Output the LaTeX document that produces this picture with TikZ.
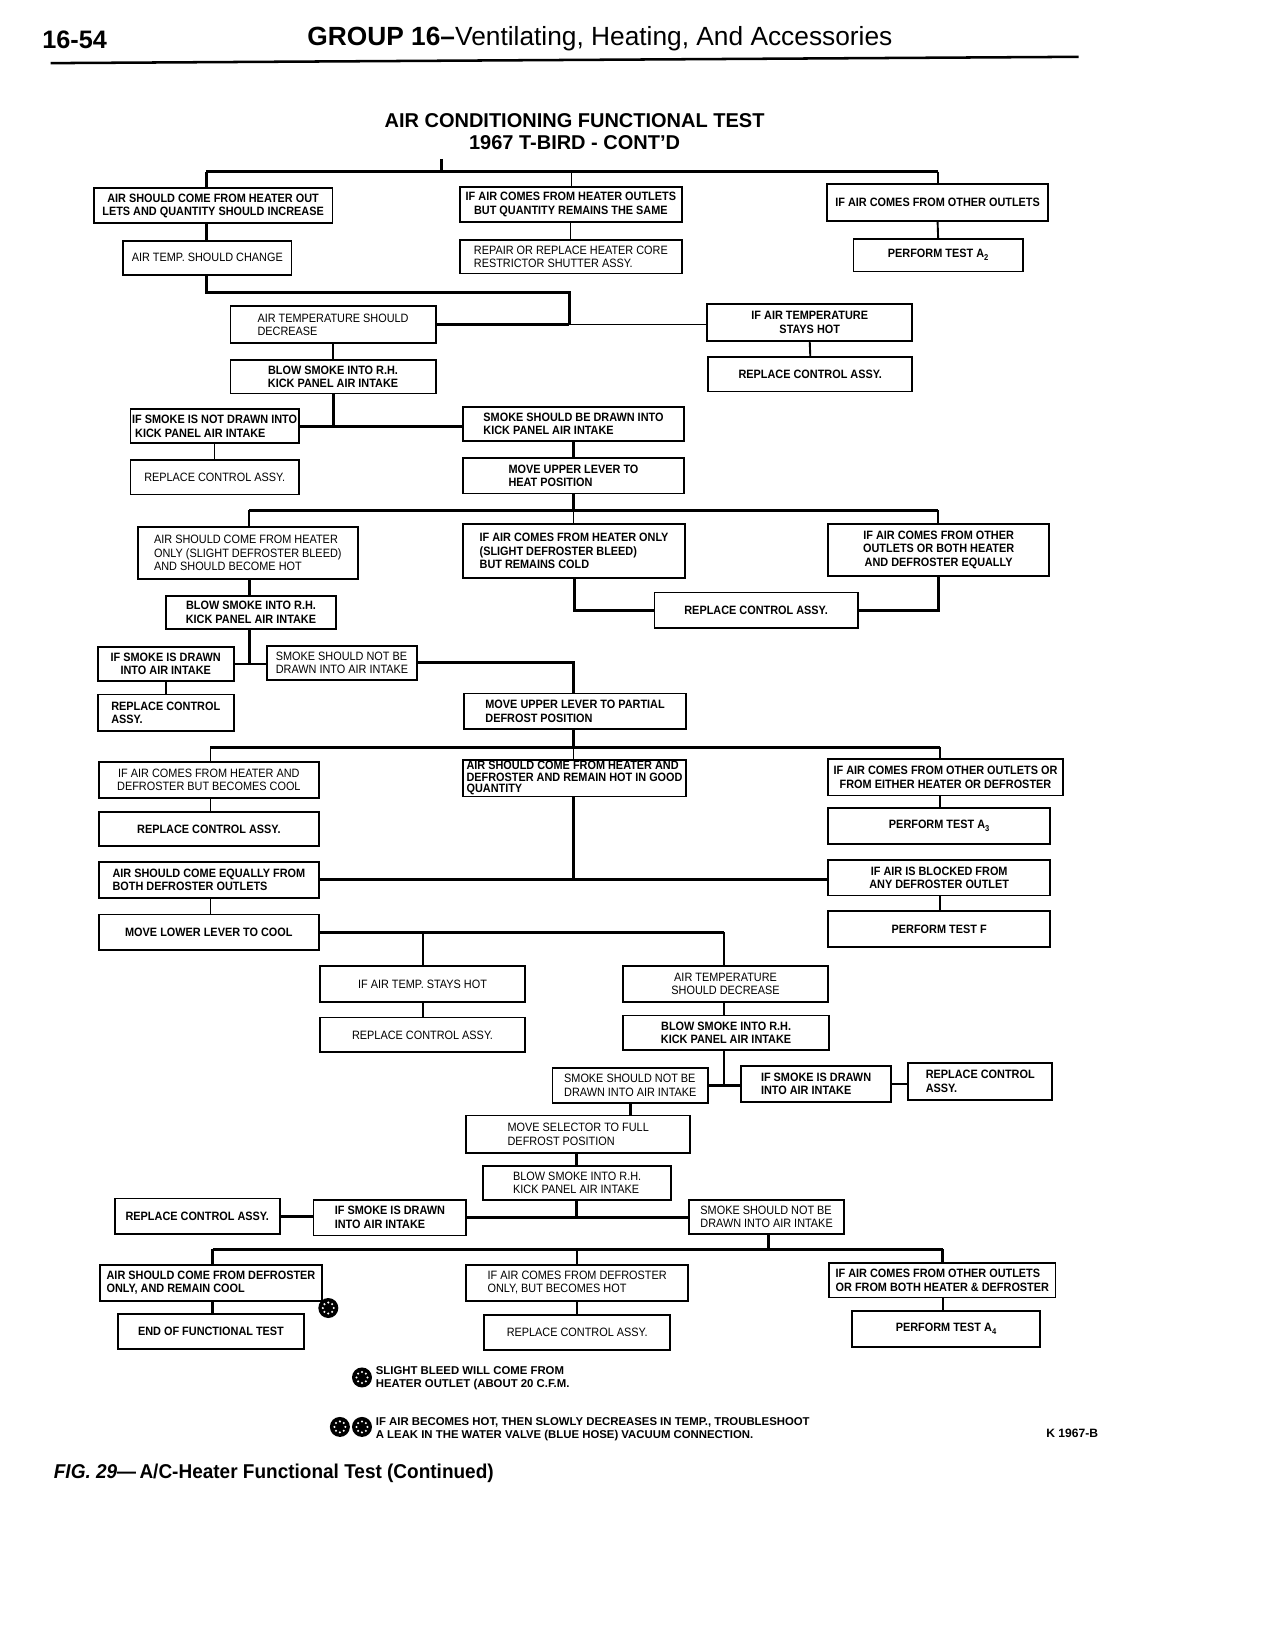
\documentclass[tikz,border=0pt]{standalone}
\usepackage{fontspec}
\setmainfont{Liberation Sans}
\newfontfamily\cond[FakeStretch=0.9]{Liberation Sans}
\newfontfamily\capf[FakeStretch=0.95]{Liberation Sans}
\newcommand\sub[1]{\raisebox{-3pt}{\fontsize{8}{8}\selectfont #1}}
\tikzset{
  box/.style={draw, line width=1.7pt, inner sep=0pt, align=center,
    font=\cond\bfseries\fontsize{11.5}{12.8}\selectfont},
  reg/.style={font=\cond\fontsize{11.5}{12.8}\selectfont},
  thk/.style={line width=2.8pt},
  med/.style={line width=1.8pt},
  thn/.style={line width=1.1pt},
  fnmark/.style={circle, fill=black, minimum size=19pt, inner sep=0pt},
}
\newcommand\bx[7][]{%
  \pgfmathsetmacro\bw{#5-#3}\pgfmathsetmacro\bh{#6-#4}%
  \pgfmathsetmacro\cx{(#3+#5)/2}\pgfmathsetmacro\cy{(#4+#6)/2}%
  \node[box, minimum width=\bw pt, minimum height=\bh pt, #1] (#2) at (\cx,\cy) {#7};}
\newcommand\markdots[1]{\foreach \a in {0,45,...,315} \fill[white] (#1.center) ++(\a:5.2) circle (1.1);}
\begin{document}
\begin{tikzpicture}[x=1pt,y=-1pt]
\useasboundingbox (0,0) rectangle (1209,1568);
\fill[white] (0,0) rectangle (1209,1568);
% header
\node[anchor=west, font=\bfseries\fontsize{24}{26}\selectfont, inner sep=0] (pg) at (40,38) {16-54};
\node[anchor=west, font=\fontsize{25}{27}\selectfont, inner sep=0] (hd) at (292,37) {\textbf{GROUP 16–}Ventilating, Heating, And Accessories};
\coordinate (rl) at (48,60); \coordinate (rr) at (1025,54);
\draw[line width=2.4pt] (rl) -- (rr);
% title
\node[align=center, font=\bfseries\fontsize{19}{21.5}\selectfont, inner sep=0] (title) at (546,125) {AIR CONDITIONING FUNCTIONAL TEST\\1967 T-BIRD - CONT’D};

% boxes
\bx{A1}{89}{179}{316}{212}{AIR SHOULD COME FROM HEATER OUT\\LETS AND QUANTITY SHOULD INCREASE}
\bx[reg]{A2}{117}{229}{277}{261}{AIR TEMP. SHOULD CHANGE}
\bx{B1}{437}{178}{648}{211}{IF AIR COMES FROM HEATER OUTLETS\\BUT QUANTITY REMAINS THE SAME}
\bx[reg,align=left]{B2}{437}{228}{648}{260}{REPAIR OR REPLACE HEATER CORE\\RESTRICTOR SHUTTER ASSY.}
\bx{C1}{786}{175}{996}{210}{IF AIR COMES FROM OTHER OUTLETS}
\bx{C2}{811}{227}{972}{258}{PERFORM TEST A\sub{2}}
\bx[reg,align=left]{D1}{219}{291}{414}{326}{AIR TEMPERATURE SHOULD\\DECREASE\hspace{60pt}}
\bx{D2}{672}{289}{867}{324}{IF AIR TEMPERATURE\\STAYS HOT}
\bx{D3}{219}{342}{414}{374}{BLOW SMOKE INTO R.H.\\KICK PANEL AIR INTAKE}
\bx{D4}{673}{339}{867}{372}{REPLACE CONTROL ASSY.}
\bx[align=left]{E1}{124}{389}{284}{421}{IF SMOKE IS NOT DRAWN INTO\\\ KICK PANEL AIR INTAKE}
\bx[align=left]{E2}{440}{387}{650}{419}{SMOKE SHOULD BE DRAWN INTO\\KICK PANEL AIR INTAKE}
\bx[reg]{E3}{124}{437}{284}{470}{REPLACE CONTROL ASSY.}
\bx[align=left]{E4}{440}{435}{650}{469}{MOVE UPPER LEVER TO\\HEAT POSITION}
\bx[reg,align=left]{F1}{131}{501}{340}{550}{AIR SHOULD COME FROM HEATER\\ONLY (SLIGHT DEFROSTER BLEED)\\AND SHOULD BECOME HOT}
\bx[align=left]{F2}{440}{498}{651}{549}{IF AIR COMES FROM HEATER ONLY\\(SLIGHT DEFROSTER BLEED)\\BUT REMAINS COLD}
\bx{F3}{787}{498}{997}{547}{IF AIR COMES FROM OTHER\\OUTLETS OR BOTH HEATER\\AND DEFROSTER EQUALLY}
\bx{F4}{622}{563}{815}{597}{REPLACE CONTROL ASSY.}
\bx{F5}{158}{566}{319}{598}{BLOW SMOKE INTO R.H.\\KICK PANEL AIR INTAKE}
\bx{G1}{93}{615}{222}{647}{IF SMOKE IS DRAWN\\INTO AIR INTAKE}
\bx[reg,align=left]{G2}{254}{614}{396}{646}{SMOKE SHOULD NOT BE\\DRAWN INTO AIR INTAKE}
\bx[align=left]{G3}{93}{660}{222}{695}{REPLACE CONTROL\\ASSY.}
\bx[align=left]{H1}{441}{659}{652}{693}{MOVE UPPER LEVER TO PARTIAL\\DEFROST POSITION}
\bx[reg]{I1}{94}{724}{303}{758}{IF AIR COMES FROM HEATER AND\\DEFROSTER BUT BECOMES COOL}
\bx[align=left, font=\cond\bfseries\fontsize{11.5}{10.8}\selectfont]{I2}{440}{722}{652}{757}{AIR SHOULD COME FROM HEATER AND\\DEFROSTER AND REMAIN HOT IN GOOD\\QUANTITY}
\bx{I3}{787}{721}{1010}{756}{IF AIR COMES FROM OTHER OUTLETS OR\\FROM EITHER HEATER OR DEFROSTER}
\bx{I4}{94}{772}{303}{804}{REPLACE CONTROL ASSY.}
\bx{I5}{787}{768}{998}{802}{PERFORM TEST A\sub{3}}
\bx[align=left]{J1}{94}{819}{303}{853}{AIR SHOULD COME EQUALLY FROM\\BOTH DEFROSTER OUTLETS}
\bx{J2}{787}{817}{998}{851}{IF AIR IS BLOCKED FROM\\ANY DEFROSTER OUTLET}
\bx{J3}{94}{869}{303}{903}{MOVE LOWER LEVER TO COOL}
\bx{J4}{787}{866}{998}{900}{PERFORM TEST F}
\bx[reg]{K1}{304}{918}{499}{952}{IF AIR TEMP. STAYS HOT}
\bx[reg]{K2}{592}{918}{787}{952}{AIR TEMPERATURE\\SHOULD DECREASE}
\bx[reg]{K3}{304}{967}{499}{1000}{REPLACE CONTROL ASSY.}
\bx{K4}{592}{965}{788}{998}{BLOW SMOKE INTO R.H.\\KICK PANEL AIR INTAKE}
\bx[reg,align=left]{L1}{525}{1015}{673}{1048}{SMOKE SHOULD NOT BE\\DRAWN INTO AIR INTAKE}
\bx[align=left]{L2}{704}{1013}{847}{1047}{IF SMOKE IS DRAWN\\INTO AIR INTAKE}
\bx[align=left]{L3}{863}{1010}{1000}{1045}{REPLACE CONTROL\\ASSY.}
\bx[reg,align=left]{M1}{443}{1060}{656}{1096}{MOVE SELECTOR TO FULL\\DEFROST POSITION}
\bx[reg,align=left]{M2}{459}{1108}{638}{1140}{BLOW SMOKE INTO R.H.\\KICK PANEL AIR INTAKE}
\bx{N1}{109}{1139}{266}{1173}{REPLACE CONTROL ASSY.}
\bx[align=left]{N2}{298}{1140}{443}{1174}{IF SMOKE IS DRAWN\\INTO AIR INTAKE}
\bx[reg,align=left]{N3}{655}{1140}{802}{1173}{SMOKE SHOULD NOT BE\\DRAWN INTO AIR INTAKE}
\bx[align=left]{O1}{95}{1202}{306}{1236}{AIR SHOULD COME FROM DEFROSTER\\ONLY, AND REMAIN COOL}
\bx[reg,align=left]{O2}{443}{1202}{654}{1236}{IF AIR COMES FROM DEFROSTER\\ONLY, BUT BECOMES HOT}
\bx[align=left]{O3}{788}{1200}{1003}{1233}{IF AIR COMES FROM OTHER OUTLETS\\OR FROM BOTH HEATER \& DEFROSTER}
\bx{O4}{112}{1249}{289}{1282}{END OF FUNCTIONAL TEST}
\bx[reg]{O5}{460}{1250}{637}{1283}{REPLACE CONTROL ASSY.}
\bx{O6}{810}{1246}{988}{1280}{PERFORM TEST A\sub{4}}

% junction coordinates
\coordinate (jT0) at (420,151);
\coordinate (jT) at (420,163);
\coordinate (jTL) at (196,163);
\coordinate (jTM) at (543,163);
\coordinate (jTR) at (891,163);
\coordinate (jAr) at (541,278);
\coordinate (jF) at (545,485);
\coordinate (jFL) at (237,485);
\coordinate (jFR) at (891,485);
\coordinate (jI) at (545,710);
\coordinate (jIL) at (200,710);
\coordinate (jIR) at (893,710);
\coordinate (jK1) at (402,886);
\coordinate (jK2) at (688,886);
\coordinate (jO) at (730,1187);
\coordinate (jOL) at (202,1187);
\coordinate (jOM) at (548,1187);
\coordinate (jOR) at (896,1187);

% connectors
\draw[thk] (jT0) -- (jT);
\draw[thk] (jTL) -- (jTR);
\draw[thk] (jTL) -- (jTL |- A1.north);
\draw[thn] (jTM) -- (jTM |- B1.north);
\draw[med] (jTR) -- (jTR |- C1.north);
\draw[thk] (jTL |- A1.south) -- (jTL |- A2.north);
\draw[thn] (B1.south) -- (B2.north);
\draw[med] (C1.south) -- (C2.north);
\draw[thk] (jTL |- A2.south) -- (jTL |- jAr) -- (jAr) -- (jAr |- D1.east);
\draw[thk] (D1.east) -- (D1.east -| jAr);
\draw[thn] (D1.east -| jAr) -- (D1.east -| D2.west);
\draw[med] (D1.south) -- (D3.north);
\draw[med] (D2.south) -- (D4.north);
\draw[thk] (D3.south) -- (D3.south |- E1.east);
\draw[thk] (E1.east) -- (E1.east -| E2.west);
\draw[thn] (E1.south) -- (E3.north);
\draw[thk] (E2.south) -- (E4.north);
\draw[thk] (E4.south) -- (jF);
\draw[thk] (jFL) -- (jFR);
\draw[med] (jFL) -- (jFL |- F1.north);
\draw[thn] (jF) -- (jF |- F2.north);
\draw[med] (jFR) -- (jFR |- F3.north);
\draw[thk] (F2.south) |- (F4.west);
\draw[thk] (F3.south) |- (F4.east);
\draw[thk] (jFL |- F1.south) -- (jFL |- F5.north);
\draw[thk] (jFL |- F5.south) |- (G1.east);
\draw[thk] (jFL |- G1.east) -- (G1.east -| G2.west);
\draw[med] (G1.south) -- (G3.north);
\draw[thk] (G2.east) -| (jF |- H1.north);
\draw[thk] (jF |- H1.south) -- (jI);
\draw[thk] (jIL) -- (jIR);
\draw[med] (jIL) -- (jIL |- I1.north);
\draw[thn] (jI) -- (jI |- I2.north);
\draw[med] (jIR) -- (jIR |- I3.north);
\draw[med] (jIL |- I1.south) -- (jIL |- I4.north);
\draw[med] (jIR |- I3.south) -- (jIR |- I5.north);
\draw[thk] (jI |- I2.south) -- (jI |- J1.east);
\draw[thk] (J1.east) -- (J1.east -| J2.west);
\draw[med] (jIL |- J1.south) -- (jIL |- J3.north);
\draw[med] (jIR |- J2.south) -- (jIR |- J4.north);
\draw[thk] (J3.east) -- (jK2);
\draw[med] (jK1) -- (jK1 |- K1.north);
\draw[med] (jK2) -- (jK2 |- K2.north);
\draw[med] (jK1 |- K1.south) -- (jK1 |- K3.north);
\draw[thk] (jK2 |- K2.south) -- (jK2 |- K4.north);
\draw[thk] (jK2 |- K4.south) -- (jK2 |- L1.east);
\draw[thk] (L1.east) -- (L1.east -| L2.west);
\draw[med] (L2.east) -- (L2.east -| L3.west);
\draw[thk] (L1.south) -- (L1.south |- M1.north);
\draw[thk] (jOM |- M1.south) -- (jOM |- M2.north);
\draw[thk] (jOM |- M2.south) -- (jOM |- N2.east);
\draw[thk] (N2.east) -- (N2.east -| N3.west);
\draw[thk] (N1.east) -- (N1.east -| N2.west);
\draw[thk] (jO |- N3.south) -- (jO);
\draw[thk] (jOL) -- (jOR);
\draw[thk] (jOL) -- (jOL |- O1.north);
\draw[med] (jOM) -- (jOM |- O2.north);
\draw[thk] (jOR) -- (jOR |- O3.north);
\draw[thk] (jOL |- O1.south) -- (jOL |- O4.north);
\draw[med] (jOM |- O2.south) -- (jOM |- O5.north);
\draw[med] (jOR |- O3.south) -- (jOR |- O6.north);

% markers
\node[fnmark] (m0) at (312,1243) {}; \markdots{m0}
\node[fnmark] (m1) at (344,1309) {}; \markdots{m1}
\node[fnmark] (m2) at (323,1356) {}; \markdots{m2}
\node[fnmark] (m3) at (344,1356) {}; \markdots{m3}
\node[anchor=west, align=left, inner sep=0, font=\bfseries\fontsize{10.8}{12.5}\selectfont] (fn1) at (357,1310) {SLIGHT BLEED WILL COME FROM\\HEATER OUTLET (ABOUT 20 C.F.M.};
\node[anchor=west, align=left, inner sep=0, font=\bfseries\fontsize{10.8}{12.5}\selectfont] (fn2) at (357,1358) {IF AIR BECOMES HOT, THEN SLOWLY DECREASES IN TEMP., TROUBLESHOOT\\A LEAK IN THE WATER VALVE (BLUE HOSE) VACUUM CONNECTION.};
\node[inner sep=0, font=\bfseries\fontsize{11.5}{12}\selectfont] (kc) at (1019,1362) {K 1967-B};
% caption
\node[anchor=west, inner sep=0, font=\capf\bfseries\fontsize{19}{21}\selectfont] (cap) at (51,1400) {\textit{FIG. 29}—\,A/C-Heater Functional Test (Continued)};
\end{tikzpicture}
\end{document}
